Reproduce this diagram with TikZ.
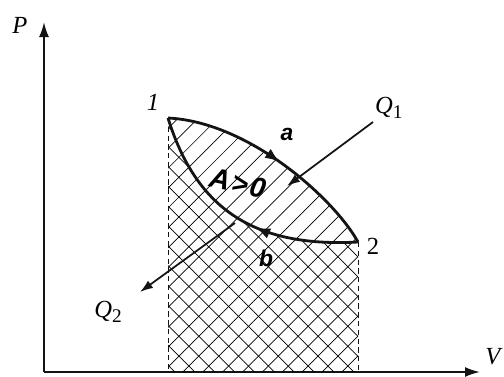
\documentclass[tikz,border=0pt]{standalone}
\usepackage{fontspec}
\setmainfont{Liberation Serif}
\newfontfamily\handfont{Liberation Sans}
\usepackage{tikz}
\usetikzlibrary{arrows.meta,positioning,patterns.meta,decorations.markings}
\definecolor{ink}{RGB}{20,20,20}
\tikzset{
  axis/.style={draw=ink,line width=1.1pt,-{Latex[length=3mm,width=2mm]}},
  proc/.style={draw=ink,line width=1.6pt},
  wall/.style={draw=ink,line width=0.4pt,densely dashed},
  heat/.style={draw=ink,line width=1pt,-{Latex[length=2.6mm,width=1.8mm]}},
  lbl/.style={font=\fontsize{14}{16}\selectfont\itshape,inner sep=1pt},
  hand/.style={font=\handfont\bfseries\itshape\fontsize{13}{15}\selectfont,inner sep=1pt},
  midarr/.style={postaction={decorate},decoration={markings,
    mark=at position #1 with {\arrow{Latex[length=3mm,width=2.2mm]}}}},
}
\newcommand{\Qsub}[1]{{\itshape Q}\raisebox{-0.45ex}{\fontsize{11}{12}\selectfont\upshape #1}}

\begin{document}
\begin{tikzpicture}[x=0.02cm,y=-0.02cm]
  \useasboundingbox (0,0) rectangle (504,376);
  % axes
  \coordinate (o) at (44,372);
  \coordinate (pend) at (44,22);
  \coordinate (vend) at (480,372);
  \draw[axis] (o) -- (pend);
  \draw[axis] (o) -- (vend);
  \node[lbl] (P) at (20,25) {P};
  \node[lbl] (V) at (493,357) {V};
  % states
  \coordinate (p1) at (168,118);
  \coordinate (p2) at (358,242);
  \coordinate (b1) at (168,372);
  \coordinate (b2) at (358,372);
  \node[lbl] (n1) at (153,102) {1};
  \node[lbl,font=\fontsize{14}{16}\selectfont] (n2) at (373,246) {2};
  % work areas
  \fill[pattern={Lines[angle=45,distance=8pt,line width=0.4pt]}]
    (b1) -- (p1) .. controls (250,122) and (335,200) .. (p2) -- (b2) -- cycle;
  \fill[pattern={Lines[angle=-45,distance=8pt,line width=0.4pt]}]
    (b1) -- (p1) .. controls (195,205) and (250,248) .. (p2) -- (b2) -- cycle;
  \draw[wall] (p1) -- (b1);
  \draw[wall] (p2) -- (b2);
  % cycle 1a2b1
  \draw[proc,midarr=0.52] (p1) .. controls (250,122) and (335,200) .. (p2);
  \draw[proc,midarr=0.42] (p2) .. controls (250,248) and (195,205) .. (p1);
  \node[hand] (a) at (287,134) {a};
  \node[hand] (b) at (266,258) {b};
  \node[hand,rotate=-12,font=\handfont\bfseries\itshape\fontsize{16}{18}\selectfont] (work) at (238,183) {A\kern1pt>\kern1pt0};
  % heat exchange
  \coordinate (q1s) at (373,122);
  \coordinate (q1e) at (287,186);
  \coordinate (q2s) at (235,223);
  \coordinate (q2e) at (140,292);
  \draw[heat] (q1s) -- (q1e);
  \draw[heat] (q2s) -- (q2e);
  \node[lbl,right=0pt of q1s,yshift=8pt] (Q1) {\Qsub{1}};
  \node[lbl] (Q2) at (108,312) {\Qsub{2}};
\end{tikzpicture}
\end{document}
